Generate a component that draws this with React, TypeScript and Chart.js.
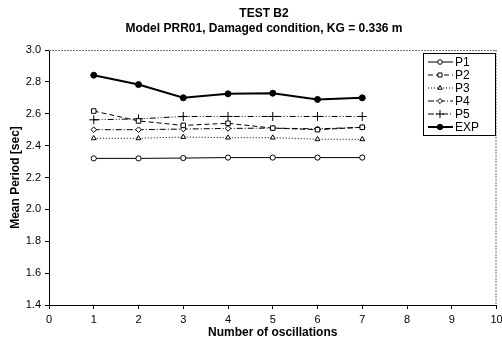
import React, { useEffect, useRef } from "react";
import { Chart, registerables } from "chart.js";
import { drawPoint } from "chart.js/helpers";

Chart.register(...registerables);

const oscillations = [1, 2, 3, 4, 5, 6, 7];
const P1 = [2.32, 2.32, 2.322, 2.325, 2.325, 2.325, 2.325];
const P2 = [2.617, 2.555, 2.527, 2.54, 2.51, 2.5, 2.515];
const P3 = [2.446, 2.446, 2.454, 2.45, 2.45, 2.44, 2.44];
const P4 = [2.5, 2.5, 2.504, 2.508, 2.51, 2.505, 2.515];
const P5 = [2.562, 2.568, 2.583, 2.583, 2.583, 2.583, 2.583];
const EXP = [2.842, 2.783, 2.7, 2.725, 2.729, 2.69, 2.7];

const titleLines = ["TEST B2", "Model PRR01, Damaged condition, KG = 0.336 m"];
const xTitle = "Number of oscillations";
const yTitle = "Mean Period [sec]";

const FONT = "'Liberation Sans', Arial, Helvetica, sans-serif";

const toPts = (vals: number[]) => oscillations.map((x, i) => ({ x, y: vals[i] }));

const seriesDefs = [
  { label: "P1", data: P1, style: "circle", radius: 2.6, dash: [] as number[], width: 1, fill: "#fff" },
  { label: "P2", data: P2, style: "rect", radius: 3.2, dash: [5, 3], width: 1, fill: "#fff" },
  { label: "P3", data: P3, style: "triangle", radius: 2.8, dash: [1, 2], width: 1, fill: "#fff" },
  { label: "P4", data: P4, style: "rectRot", radius: 2.8, dash: [6, 2, 1, 2], width: 1, fill: "#fff" },
  { label: "P5", data: P5, style: "cross", radius: 4.5, dash: [6, 2, 1, 2, 1, 2], width: 1, fill: "#fff" },
  { label: "EXP", data: EXP, style: "circle", radius: 3, dash: [] as number[], width: 2, fill: "#000" },
];

const framePlugin = {
  id: "frame",
  beforeDatasetsDraw(chart: any) {
    const { ctx, chartArea } = chart;
    ctx.save();
    ctx.strokeStyle = "#777";
    ctx.lineWidth = 1;
    ctx.setLineDash([2, 1]);
    ctx.beginPath();
    ctx.moveTo(chartArea.left, chartArea.top + 0.5);
    ctx.lineTo(chartArea.right, chartArea.top + 0.5);
    ctx.moveTo(chartArea.right - 0.5, chartArea.top);
    ctx.lineTo(chartArea.right - 0.5, chartArea.bottom);
    ctx.stroke();
    ctx.restore();
  },
  afterDraw(chart: any) {
    const { ctx } = chart;
    ctx.save();
    ctx.fillStyle = "#000";
    ctx.textAlign = "center";
    ctx.textBaseline = "middle";
    ctx.font = `bold 12px ${FONT}`;
    ctx.fillText(titleLines[0], 264, 14);
    ctx.fillText(titleLines[1], 264, 29);

    const bx = 423, by = 53, bw = 72, bh = 82;
    ctx.fillStyle = "#fff";
    ctx.fillRect(bx, by, bw, bh);
    ctx.strokeStyle = "#000";
    ctx.lineWidth = 1;
    ctx.setLineDash([]);
    ctx.strokeRect(bx + 0.5, by + 0.5, bw, bh);
    const dsets = chart.data.datasets;
    dsets.forEach((ds: any, i: number) => {
      const y = by + 9 + i * 13;
      ctx.save();
      ctx.strokeStyle = "#000";
      ctx.lineWidth = ds.borderWidth;
      ctx.setLineDash(ds.borderDash || []);
      ctx.beginPath();
      ctx.moveTo(bx + 5, y);
      ctx.lineTo(bx + 30, y);
      ctx.stroke();
      ctx.setLineDash([]);
      ctx.lineWidth = 1;
      ctx.fillStyle = ds.pointBackgroundColor;
      drawPoint(ctx, { pointStyle: ds.pointStyle, radius: ds.pointRadius * 0.9, rotation: 0, borderWidth: 1 }, bx + 17, y);
      ctx.restore();
      ctx.fillStyle = "#000";
      ctx.textAlign = "left";
      ctx.font = `12px ${FONT}`;
      ctx.fillText(ds.label, bx + 32, y + 0.5);
    });
    ctx.restore();
  },
};

export default function App() {
  const ref = useRef<HTMLCanvasElement>(null);
  useEffect(() => {
    if (!ref.current) return;
    Chart.defaults.font.family = FONT;
    Chart.defaults.color = "#000";
    const chart = new Chart(ref.current, {
      type: "line",
      data: {
        datasets: seriesDefs.map((s) => ({
          label: s.label,
          data: toPts(s.data),
          borderColor: "#000",
          borderWidth: s.width,
          borderDash: s.dash,
          pointStyle: s.style as any,
          pointRadius: s.radius,
          pointBorderWidth: 1,
          pointBorderColor: "#000",
          pointBackgroundColor: s.fill,
          backgroundColor: s.fill,
          tension: 0,
          fill: false,
        })),
      },
      options: {
        responsive: false,
        animation: false,
        devicePixelRatio: 1,
        layout: { padding: { top: 50, right: 3, left: 0, bottom: 0 } },
        plugins: { legend: { display: false }, tooltip: { enabled: false }, title: { display: false } },
        scales: {
          x: {
            type: "linear",
            min: 0,
            max: 10,
            ticks: { stepSize: 1, font: { size: 11 }, padding: 4, maxRotation: 0, color: "#000" },
            grid: { drawOnChartArea: false, tickLength: 4, color: "#000" },
            border: { color: "#000", width: 1 },
            title: { display: true, text: xTitle, font: { size: 12, weight: "bold" }, color: "#000", padding: { top: 4, bottom: 3 } },
            afterFit: (s: any) => {
              s.height = 38;
              s.paddingRight = 0;
              s.paddingLeft = 0;
            },
          } as any,
          y: {
            min: 1.4,
            max: 3.0,
            ticks: { stepSize: 0.2, font: { size: 11 }, padding: 4, color: "#000", callback: (v: any) => Number(v).toFixed(1) },
            grid: { drawOnChartArea: false, tickLength: 4, color: "#000" },
            border: { color: "#000", width: 1 },
            title: { display: true, text: yTitle, font: { size: 12, weight: "bold" }, color: "#000", padding: { top: 8, bottom: 4 } },
            afterFit: (s: any) => {
              s.width = 49;
            },
          } as any,
        },
      },
      plugins: [framePlugin],
    });
    return () => chart.destroy();
  }, []);
  return (
    <div style={{ position: "fixed", left: 0, top: 0, width: 502, height: 343, background: "#fff" }}>
      <canvas ref={ref} width={502} height={343} style={{ width: 502, height: 343, display: "block" }} />
    </div>
  );
}
